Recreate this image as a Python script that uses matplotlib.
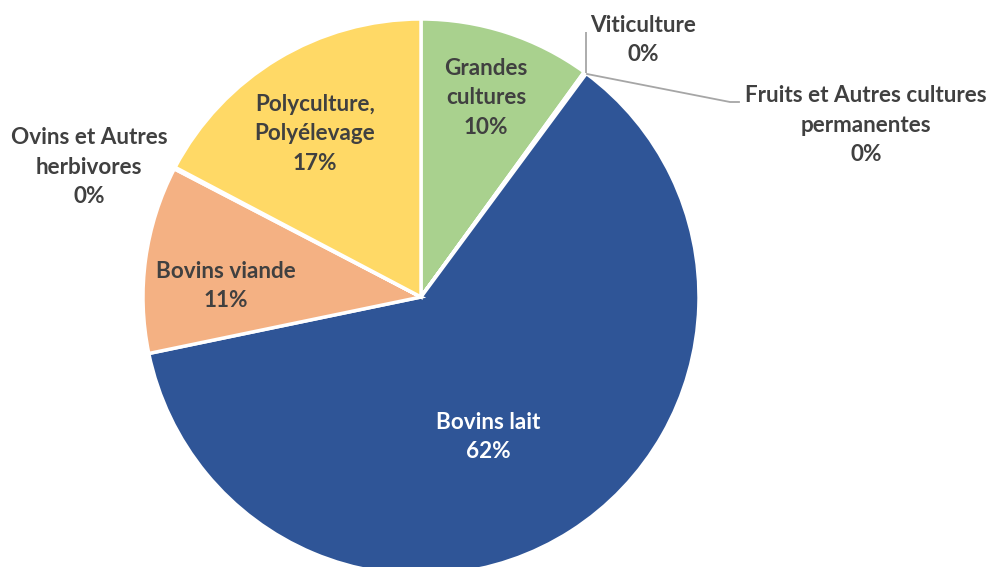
import matplotlib
matplotlib.use("Agg")
import matplotlib.pyplot as plt

categories = ["Grandes\ncultures", "Viticulture", "Fruits et Autres cultures\npermanentes",
              "Bovins lait", "Bovins viande", "Ovins et Autres\nherbivores",
              "Polyculture,\nPolyélevage"]
values = [10.0, 0.05, 0.1, 61.7, 10.9, 0.1, 17.3]
pct_labels = ["10%", "0%", "0%", "62%", "11%", "0%", "17%"]
colors = ["#A9D18E", "#A5A5A5", "#C9C9C9", "#2F5597", "#F4B183", "#8FAADC", "#FFD966"]

W, H = 990, 567
fig = plt.figure(figsize=(W / 100, H / 100), dpi=100)
ax = fig.add_axes([0, 0, 1, 1])

cx, cy, r = 421, H - 297, 278
ax.pie(values, colors=colors, startangle=90, counterclock=False,
       center=(cx, cy), radius=r,
       wedgeprops=dict(edgecolor="white", linewidth=2.5))
ax.set_xlim(0, W)
ax.set_ylim(0, H)
ax.set_aspect("equal")
ax.axis("off")

font = dict(family=["Lato", "DejaVu Sans"], fontweight="bold", fontsize=16.2,
            ha="center", va="center", linespacing=1.48)
dark = "#404040"

# label positions (pixels from top-left)
pos = {
    0: (486, 98, dark),
    1: (643, 40, dark),
    2: (866, 125, dark),
    3: (488, 437, "white"),
    4: (226, 286, dark),
    5: (89, 167, dark),
    6: (315, 134, dark),
}
for i, (x, y, c) in pos.items():
    ax.text(x, H - y, categories[i] + "\n" + pct_labels[i], color=c, **font)

# leader lines
lc = "#A6A6A6"
ax.plot([586, 586], [H - 73, H - 32], color=lc, lw=1.3, solid_capstyle="butt")
ax.plot([587, 730, 739], [H - 74, H - 102, H - 102], color=lc, lw=1.3)

fig.savefig("out.png", dpi=100)
